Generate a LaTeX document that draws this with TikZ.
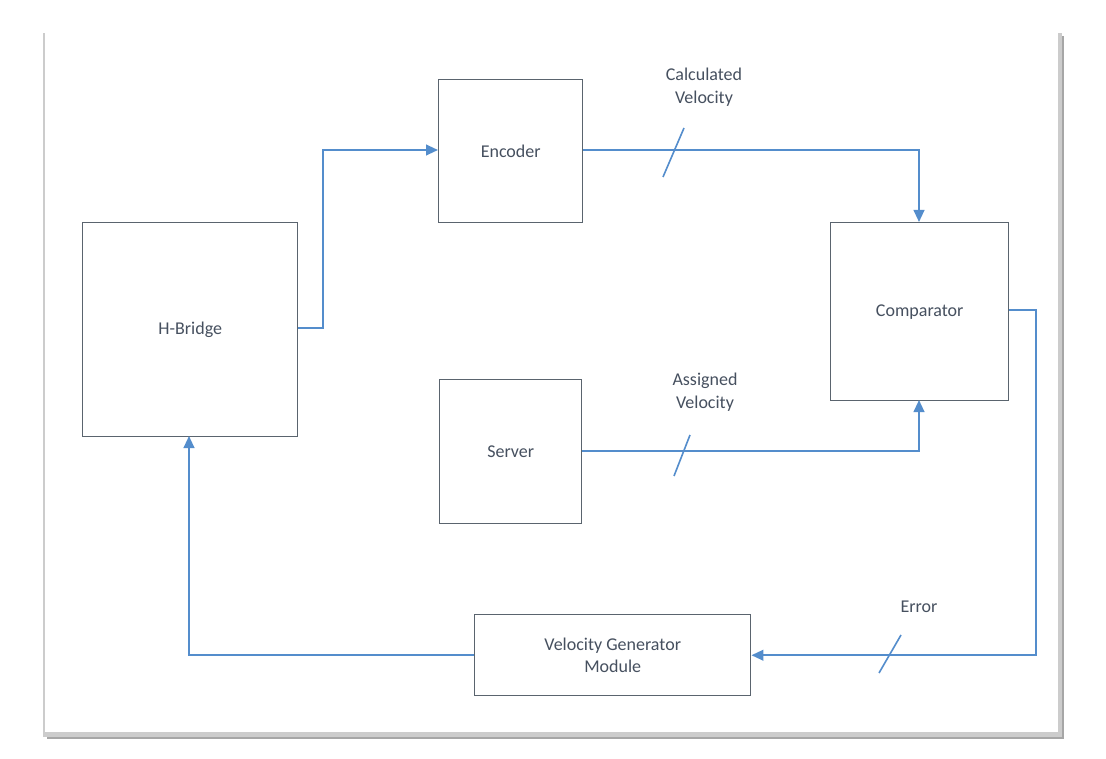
\documentclass[tikz,border=0pt]{standalone}
\usepackage{fontspec}
\setmainfont{Carlito}
\usetikzlibrary{arrows.meta}
\definecolor{ln}{RGB}{84,141,204}
\definecolor{bx}{RGB}{90,100,110}
\definecolor{tx}{RGB}{70,80,95}
\begin{document}
\begin{tikzpicture}[x=0.75pt,y=-0.75pt,
 blk/.style={draw=bx,line width=1.1pt,fill=white,inner sep=0pt},
 lbl/.style={text=tx,font=\fontsize{13.5}{17}\selectfont,align=center},
 con/.style={draw=ln,line width=1.5pt,-{Triangle[length=9pt,width=8pt]}},
 sl/.style={draw=ln,line width=1.2pt}]
\useasboundingbox (0,0) rectangle (1106,759);
\fill[black!35] (47,36) rectangle (1064,739);
\fill[black!20] (43,33) rectangle (1062,737);
\fill[white] (45,32) rectangle (1058,732);
\node[blk,minimum width=161.25pt,minimum height=160.5pt,anchor=north west] (hb) at (82,222) {};
\node[lbl] at (hb.center) {H-Bridge};
\node[blk,minimum width=108pt,minimum height=107.25pt,anchor=north west] (en) at (438,79) {};
\node[lbl] at (en.center) {Encoder};
\node[blk,minimum width=133.5pt,minimum height=133.5pt,anchor=north west] (cp) at (830,222) {};
\node[lbl] at (cp.center) {Comparator};
\node[blk,minimum width=106.5pt,minimum height=108pt,anchor=north west] (sv) at (439,379) {};
\node[lbl] at (sv.center) {Server};
\node[blk,minimum width=207pt,minimum height=60.75pt,anchor=north west] (vg) at (474,614) {};
\node[lbl] at (vg.center) {Velocity Generator\\Module};
\coordinate (a1) at (323,328);
\draw[con] (hb.east |- a1) -- (a1) |- (en.west |- 0,150);
\draw[con] (en.east |- 0,150) -| (919,222);
\draw[con] (sv.east |- 0,451) -| (919,400);
\draw[con] (cp.east |- 0,310) -- (1036,310) |- (vg.east);
\draw[con] (vg.west) -| (189,436);
\draw[sl] (684,128) -- (663,177);
\draw[sl] (690,435) -- (674,476);
\draw[sl] (901,635) -- (879,673);
\node[lbl] (l1) at (704,87) {Calculated\\Velocity};
\node[lbl] (l2) at (705,392) {Assigned\\Velocity};
\node[lbl] (l3) at (919,607) {Error};
\end{tikzpicture}
\end{document}
